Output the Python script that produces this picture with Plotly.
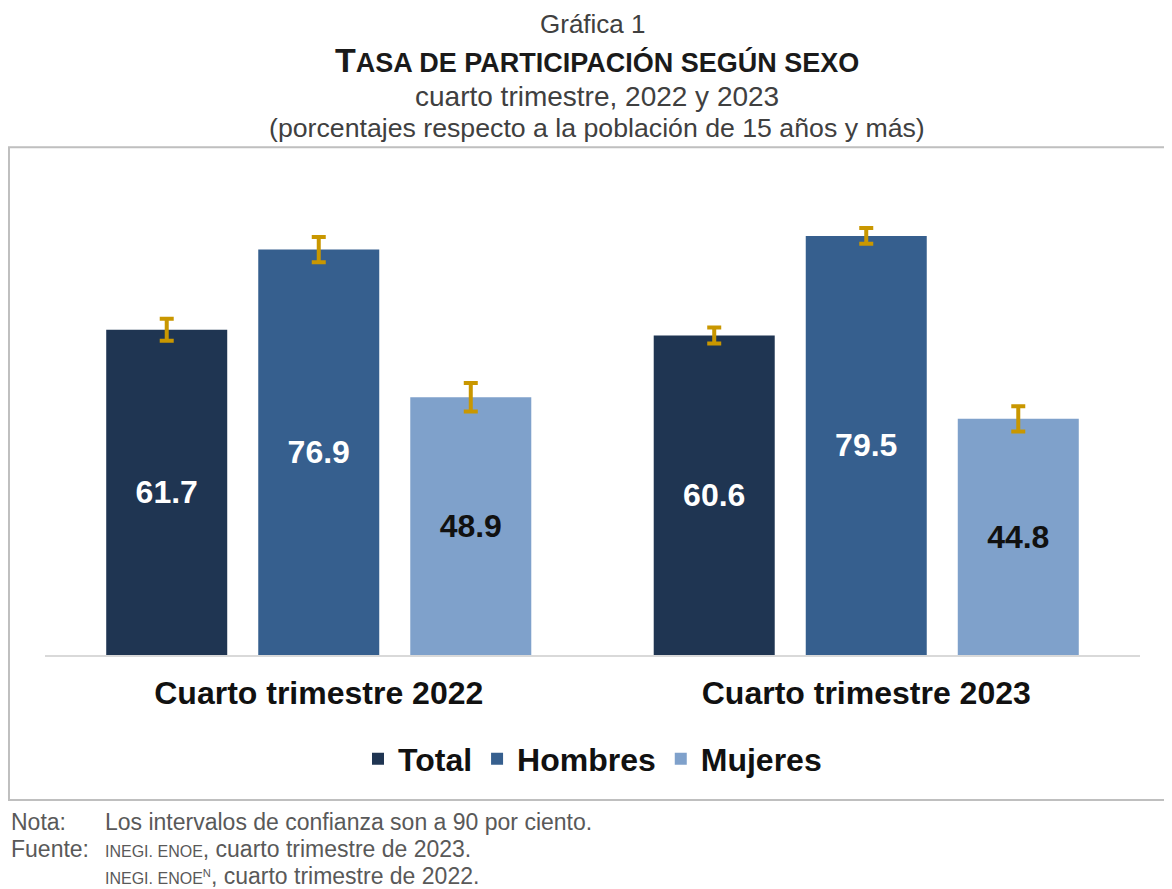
import plotly.graph_objects as go

# datos
categorias = ["Cuarto trimestre 2022", "Cuarto trimestre 2023"]
series = ["Total", "Hombres", "Mujeres"]
total = [61.7, 60.6]
hombres = [76.9, 79.5]
mujeres = [48.9, 44.8]
# semiancho de los intervalos de confianza
ic_total = [2.1, 1.5]
ic_hombres = [2.4, 1.5]
ic_mujeres = [2.7, 2.4]

colores = ["#1F3552", "#365F8E", "#7FA1CB"]
color_texto = ["white", "white", "#111111"]
valores = [total, hombres, mujeres]
intervalos = [ic_total, ic_hombres, ic_mujeres]

fig = go.Figure()
for nombre, vals, ic, col, ctx in zip(series, valores, intervalos, colores, color_texto):
    fig.add_trace(go.Bar(
        name=nombre, x=categorias, y=vals,
        marker=dict(color=col, line=dict(width=0)),
        text=[f"{v:.1f}" for v in vals],
        textposition="inside", insidetextanchor="middle",
        textfont=dict(family="Liberation Sans", size=32, color=ctx, weight="bold"),
        error_y=dict(type="data", array=ic, visible=True, color="#C99700", thickness=4, width=7),
    ))

# la página añade 8px de margen, por eso la figura es 1164x881
fig.update_layout(
    width=1164, height=881,
    margin=dict(l=37, r=32, t=162, b=234),
    paper_bgcolor="white", plot_bgcolor="white",
    barmode="group", bargap=0.167, bargroupgap=0.204,
    font=dict(family="Liberation Sans", color="#222222"),
    showlegend=True,
    legend=dict(orientation="h", x=0.5, xanchor="center", y=-0.2144, yanchor="middle",
                font=dict(size=32, color="#111111", weight="bold"), itemwidth=30,
                traceorder="normal"),
)
fig.update_yaxes(range=[0, 92], visible=False, showgrid=False, zeroline=False)
fig.update_xaxes(showline=True, linecolor="#D9D9D9", linewidth=2, ticks="",
                 tickfont=dict(size=32, color="#111111", weight="bold"),
                 ticklabelstandoff=9, showgrid=False)

# marco
fig.add_shape(type="rect", xref="paper", yref="paper",
              x0=-0.0329, x1=1.0256, y0=-0.299, y1=1.047,
              line=dict(color="#BFBFBF", width=2), layer="below")

# títulos
titulos = [
    ("Gráfica 1", 26, "#404040", 1.300, 0.5),
    ("<b><span style='font-size:34px'>T</span>ASA DE PARTICIPACIÓN SEGÚN SEXO</b>", 27, "#1a1a1a", 1.227, 0.504),
    ("cuarto trimestre, 2022 y 2023", 28, "#404040", 1.151, 0.504),
    ("(porcentajes respecto a la población de 15 años y más)", 26.7, "#404040", 1.087, 0.504),
]
for txt, tam, col, yy, xx in titulos:
    fig.add_annotation(text=txt, xref="paper", yref="paper", x=xx, y=yy,
                       xanchor="center", yanchor="middle", showarrow=False,
                       font=dict(size=tam, color=col))

# notas
notas = [
    ("Nota:", "Los intervalos de confianza son a 90 por ciento.", -0.344),
    ("Fuente:", "<span style='font-size:16px'>INEGI. ENOE</span>, cuarto trimestre de 2023.", -0.40),
    ("", "<span style='font-size:16px'>INEGI. ENOE<sup>N</sup></span>, cuarto trimestre de 2022.", -0.455),
]
for etq, txt, yy in notas:
    if etq:
        fig.add_annotation(text=etq, xref="paper", yref="paper", x=-0.033, y=yy,
                           xanchor="left", yanchor="middle", showarrow=False,
                           font=dict(size=23, color="#595959"))
    fig.add_annotation(text=txt, xref="paper", yref="paper", x=0.053, y=yy,
                       xanchor="left", yanchor="middle", showarrow=False,
                       font=dict(size=23, color="#595959"))

fig.write_html("out.html")
